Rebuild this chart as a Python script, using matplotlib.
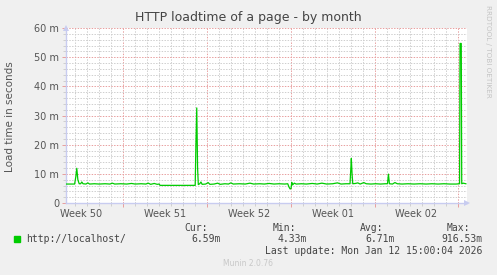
import matplotlib
matplotlib.use("Agg")
import matplotlib.pyplot as plt
from matplotlib.transforms import blended_transform_factory
from matplotlib.ticker import FixedLocator, MultipleLocator

# ---- data (x: days since Mon 2025-12-08 00:00, y: load time in ms) ----
days = [2.23, 2.6, 2.95, 3.05, 3.13, 3.22, 3.33, 3.45, 3.55, 3.65, 3.9, 4.05, 4.2,
        4.6, 5.0, 5.5, 5.9, 6.1, 6.3, 6.8, 7.3, 7.7, 8.0, 8.5, 8.9, 9.1, 9.3, 9.6,
        9.85, 10.0, 10.09, 13.02, 13.08, 13.15, 13.22, 13.28, 13.4, 13.5, 13.6,
        13.9, 14.1, 14.25, 14.6, 14.9, 15.1, 15.5, 15.8, 16.0, 16.2, 16.7, 17.2,
        17.6, 17.9, 18.4, 18.8, 19.2, 19.6, 20.0, 20.5, 20.75, 20.85, 20.95, 21.03,
        21.08, 21.15, 21.3, 21.45, 21.9, 22.3, 22.8, 23.2, 23.6, 24.0, 24.5, 24.9,
        25.2, 25.6, 25.95, 26.02, 26.06, 26.12, 26.18, 26.4, 26.6, 26.8, 27.1, 27.3,
        27.7, 28.1, 28.5, 28.9, 29.08, 29.16, 29.24, 29.5, 29.7, 29.9, 30.3, 30.8,
        31.3, 31.8, 32.3, 32.8, 33.3, 33.8, 34.3, 34.8, 35.1, 35.14, 35.24, 35.28,
        35.4, 35.625]
load_ms = [6.5, 6.5, 6.5, 9.0, 11.9, 8.0, 6.6, 6.6, 7.2, 6.6, 6.5, 6.9, 6.5,
           6.6, 6.5, 6.6, 6.5, 6.8, 6.5, 6.6, 6.5, 6.7, 6.5, 6.6, 6.5, 6.8, 6.4, 6.7,
           6.4, 6.5, 6.05, 6.05, 20.0, 32.6, 12.0, 6.3, 6.6, 7.2, 6.4,
           6.5, 7.0, 6.4, 6.5, 6.8, 6.4, 6.6, 6.5, 6.9, 6.5, 6.6, 6.5,
           6.8, 6.5, 6.6, 6.5, 6.7, 6.5, 6.6, 6.5, 6.6, 5.5, 4.8, 5.0,
           7.1, 6.2, 6.8, 6.5, 6.6, 6.5, 6.7, 6.5, 6.8, 6.5, 6.6, 6.9,
           6.5, 6.6, 6.6, 12.0, 15.3, 10.0, 6.6, 6.7, 6.9, 6.5, 7.0, 6.6,
           6.5, 6.6, 6.5, 6.6, 6.6, 9.9, 6.6, 6.5, 7.0, 6.6, 6.5, 6.6,
           6.5, 6.6, 6.5, 6.6, 6.5, 6.6, 6.5, 6.5, 6.6, 54.7, 54.7, 6.6,
           6.8, 6.6]

week_starts = [7, 14, 21, 28, 35]
week_label_days = [3.5, 10.5, 17.5, 24.5, 31.5]
week_labels = ["Week 50", "Week 51", "Week 52", "Week 01", "Week 02"]
y_ticks = [0, 10, 20, 30, 40, 50, 60]
y_tick_labels = ["0", "10 m", "20 m", "30 m", "40 m", "50 m", "60 m"]

series_name = "http://localhost/"
cur, vmin, avg, vmax = "6.59m", "4.33m", "6.71m", "916.53m"
last_update = "Last update: Mon Jan 12 15:00:04 2026"

# ---- figure ----
W, H = 497, 275
fig = plt.figure(figsize=(W / 100, H / 100), dpi=100, facecolor="#F0F0F0")
L, R, T, B = 66, 467, 28, 203
ax = fig.add_axes([L / W, (H - B) / H, (R - L) / W, (B - T) / H])
ax.set_facecolor("white")

ax.set_xlim(2.23, 35.72)
ax.set_ylim(0, 60)

major_c = "#E8A0A0"
minor_c = "#CFCFCF"
axis_c = "#C8CCF0"

ax.xaxis.set_major_locator(FixedLocator(week_starts))
ax.xaxis.set_minor_locator(MultipleLocator(1))
ax.yaxis.set_major_locator(FixedLocator(y_ticks))
ax.yaxis.set_minor_locator(MultipleLocator(2))
ax.set_xticklabels([])
ax.set_yticks(y_ticks)
ax.set_yticklabels(y_tick_labels)

ax.grid(which="minor", color=minor_c, linestyle=(0, (1.4, 1.4)), linewidth=0.72)
ax.grid(which="major", color=major_c, linestyle=(0, (1.4, 1.4)), linewidth=0.72)
ax.set_axisbelow(True)

ax.tick_params(axis="both", which="major", length=3, width=0.72, color=major_c,
               direction="out", labelsize=7, labelcolor="#555555", pad=2)
ax.tick_params(axis="both", which="minor", length=2, width=0.72, color=minor_c,
               direction="out")

for s in ("top", "right"):
    ax.spines[s].set_visible(False)
for s in ("left", "bottom"):
    ax.spines[s].set_color(axis_c)
    ax.spines[s].set_linewidth(1.0)

# arrows on axes ends
ax.plot([0], [1.0], marker="^", markersize=5, color=axis_c, transform=ax.transAxes,
        clip_on=False, zorder=5, markeredgewidth=0)
ax.plot([1.0], [0], marker=">", markersize=5, color=axis_c, transform=ax.transAxes,
        clip_on=False, zorder=5, markeredgewidth=0)

ax.plot(days, load_ms, color="#00CC00", linewidth=0.9, zorder=3)

trans = blended_transform_factory(ax.transData, ax.transAxes)
for xd, lab in zip(week_label_days, week_labels):
    ax.text(xd, -0.035, lab, transform=trans, ha="center", va="top",
            fontsize=7, color="#555555")

fig.text(248 / W, 1 - 18 / H, "HTTP loadtime of a page - by month", ha="center",
         va="center", fontsize=9, color="#444444")
fig.text(10 / W, 1 - 117 / H, "Load time in seconds", rotation=90, ha="center",
         va="center", fontsize=7.5, color="#555555")
fig.text(488 / W, 1 - 5 / H, "RRDTOOL / TOBI OETIKER", rotation=270, ha="center",
         va="top", fontsize=5.2, color="#C4C4C4")

mono = "DejaVu Sans Mono"
fs = 7
def ftext(x, y, s, ha="left", **kw):
    fig.text(x / W, 1 - y / H, s, ha=ha, va="center", fontsize=fs, family=mono,
             color="#444444", **kw)

fig.patches.append(plt.Rectangle((14 / W, 1 - 242 / H), 6 / W, 6 / H,
                                 transform=fig.transFigure, color="#00CC00",
                                 figure=fig))
ftext(26.5, 239, series_name)
ftext(208, 228, "Cur:", ha="right")
ftext(221, 239, cur, ha="right")
ftext(296, 228, "Min:", ha="right")
ftext(307, 239, vmin, ha="right")
ftext(383, 228, "Avg:", ha="right")
ftext(395, 239, avg, ha="right")
ftext(470, 228, "Max:", ha="right")
ftext(482.5, 239, vmax, ha="right")
ftext(482.5, 251, last_update, ha="right")
fig.text(248 / W, 1 - 264 / H, "Munin 2.0.76", ha="center", va="center",
         fontsize=5.5, color="#C8C8C8")

fig.savefig("out.png", dpi=100, facecolor=fig.get_facecolor())
